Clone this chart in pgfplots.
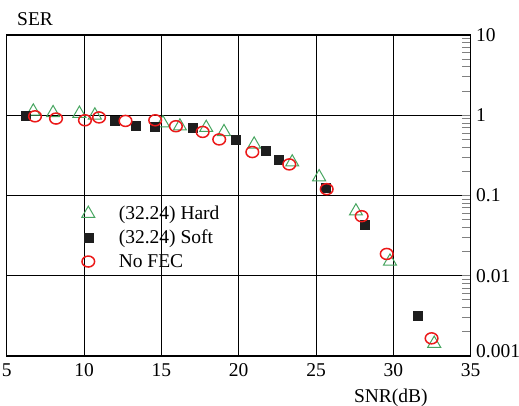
\documentclass[border=0pt]{standalone}
\usepackage{fontspec}
\setmainfont{Liberation Serif}
\usepackage{pgfplots}
\pgfplotsset{compat=1.18}

\definecolor{hardgreen}{RGB}{70,165,95}
\definecolor{nofecred}{RGB}{235,25,25}
\definecolor{softblack}{RGB}{30,30,30}

\begin{document}
\begin{tikzpicture}
\useasboundingbox (-6.7bp,-50bp) rectangle (512.3bp,356bp);
\begin{axis}[
  at={(0,0)}, anchor=south west,
  scale only axis,
  width=464bp, height=321bp,
  font=\fontsize{19.5bp}{23bp}\selectfont,
  /pgf/number format/assume math mode=true,
  xmin=5, xmax=35,
  ymode=log, ymin=0.001, ymax=10,
  xtick={5,10,15,20,30,35},
  extra x ticks={25},
  extra x tick style={grid style={gray!75, line width=1.8bp}},
  ytick={0.001,0.01,0.1,1,10},
  yticklabels={,0.01,0.1,1,10},
  extra y ticks={0.001},
  extra y tick labels={0.001},
  extra y tick style={yticklabel style={yshift=5bp}},
  yticklabel pos=right,
  ytick pos=right,
  xtick pos=bottom,
  xticklabel style={yshift=-4bp},
  yticklabel style={xshift=2bp},
  major tick length=0bp,
  minor tick length=9bp,
  tick align=inside,
  minor tick style={gray, line width=1bp},
  grid=major,
  major grid style={black, line width=1bp},
  axis line style={black, line width=1.2bp},
  xlabel={SNR(dB)},
  xlabel style={at={(ticklabel cs:0.828)}, anchor=north, yshift=-5bp},
  ylabel={SER},
  ylabel style={rotate=-90, at={(rel axis cs:0,1)}, anchor=base west, xshift=7bp, yshift=10bp},
  legend cell align=left,
  legend style={at={(rel axis cs:0.155,0.48)}, anchor=north west, draw=none, fill=none,
    row sep=5bp, /tikz/every odd column/.append style={column sep=22bp}},
]
\addplot[only marks, mark=triangle, mark size=7.5bp, color=hardgreen, line width=1bp] coordinates {
  (6.72,1.12)(8.0,1.07)(9.7,1.05)(10.7,1.0)(15.1,0.80)(16.2,0.73)(17.9,0.70)
  (19.05,0.62)(21.0,0.434)(23.46,0.26)(25.2,0.17)(27.58,0.0637)(29.78,0.0151)(32.64,0.00143)
};
\addplot[only marks, mark=square*, mark size=4.5bp, color=softblack] coordinates {
  (6.23,1.0)(12.0,0.866)(13.37,0.75)(14.6,0.71)(17.02,0.70)(19.82,0.49)(21.76,0.362)
  (22.6,0.28)(25.6,0.125)(28.16,0.0434)(31.6,0.00316)
};
\addplot[only marks, mark=o, mark size=5.5bp, mark options={xscale=1.15}, color=nofecred, line width=1.5bp] coordinates {
  (6.83,0.97)(8.19,0.91)(10.06,0.866)(10.97,0.94)(12.68,0.85)(14.6,0.866)(15.94,0.73)
  (17.67,0.62)(18.74,0.50)(20.88,0.348)(23.27,0.244)(25.69,0.12)(27.95,0.0552)(29.57,0.0187)(32.47,0.00166)
};
\legend{(32.24) Hard, (32.24) Soft, No FEC}
\end{axis}
\end{tikzpicture}
\end{document}
